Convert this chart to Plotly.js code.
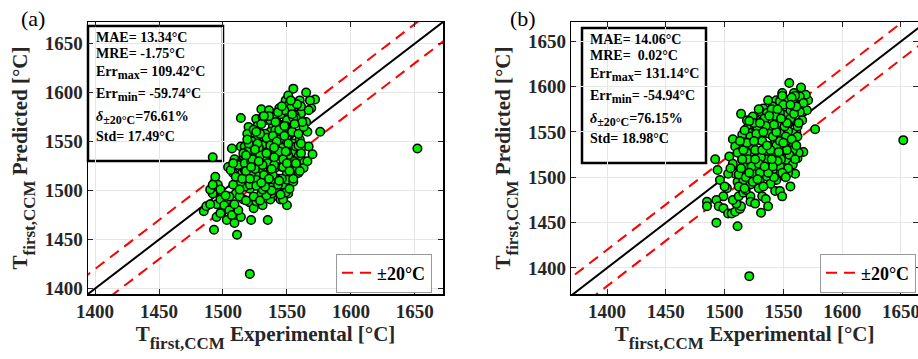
<!DOCTYPE html>
<html>
<head>
<meta charset="utf-8">
<script src="https://cdn.plot.ly/plotly-3.0.1.min.js"></script>
<style>html,body{margin:0;padding:0;background:#fff;}#chart{width:918px;height:359px;}</style>
</head>
<body>
<div id="chart"></div>
<script>
// ---- Panel (a) data: experimental vs predicted ----
const expA = [1492,1514,1485,1493,1511,1521,1535,1522,1652,1576,1555,1565,1572,1569,1530,1520,1507,1514,1509,1494,
1496,1492,1495,1499,1504,1510,1508,1504,1503,1509,1514,1516,1521,1524,1526,1531,1537,1543,1545,1550,
1551,1547,1555,1556,1561,1563,1567,1566,1565,1561,1544,1542,1549,1551,1560,1526,1526,1522,1520,1517,
1516,1513,1515,1518,1521,1530,1534,1539,1533,1537,1542,1538,1533,1529,1524,1534,1542,1539,1546,1550,
1553,1557,1550,1555,1560,1561,1552,1547,1551,1546,1554,1550,1544,1540,1527,1524,1520,1534,1531,1537,
1534,1542,1547,1555,1559,1557,1537,1524,1517,1508,1506,1526,1550,1547,1543,1538,1549,1555,1559,1563,
1552,1557,1561,1548,1541,1536,1531,1524,1519,1526,1529,1561,1567,1568,1556,1552,1559,1563,1547,1552,
1539,1544,1552,1557,1561,1531,1526,1522,1517,1514,1510,1512,1508,1487,1490,1498,1501,1505,1507,1512,
1509,1505,1513,1518,1513,1524,1529,1534,1531,1490,1492,1498,1502,1495,1498,1566,1570,1545,1528,1536,
1515,1517,1519,1521,1523,1525,1527,1529,1531,1533,1535,1537,1539,1541,1543,1545,1547,1549,1551,1553,
1555,1557,1559,1516,1518,1520,1522,1524,1526,1528,1530,1532,1534,1536,1538,1540,1542,1544,1546,1548,
1550,1552,1554,1556,1558,1560,1562,1519,1523,1527,1531,1535,1539,1543,1547,1551,1555,1559,1521,1525,
1529,1533,1537,1541,1545,1549,1553,1557,1561,1528,1532,1536,1540,1544,1548,1552,1556,1534,1538,1542,
1546,1550,1554,1530,1526,1522,1518,1540,1544,1548];
const predA = [1534,1574,1479,1460,1455,1415,1470,1470,1543,1560,1604,1600,1593,1584,1583,1565,1543,1545,1532,1514,
1506,1497,1486,1478,1491,1497,1506,1524,1470,1467,1473,1491,1488,1482,1489,1485,1491,1494,1491,1485,
1497,1506,1516,1523,1531,1530,1545,1560,1570,1579,1584,1579,1592,1597,1592,1573,1563,1555,1552,1545,
1535,1528,1518,1509,1502,1497,1501,1504,1509,1518,1524,1531,1535,1540,1545,1548,1555,1565,1567,1572,
1563,1569,1555,1548,1552,1543,1541,1535,1528,1524,1521,1518,1512,1511,1518,1524,1531,1524,1555,1560,
1572,1548,1545,1538,1535,1545,1543,1533,1521,1518,1521,1511,1511,1491,1498,1497,1498,1509,1518,1523,
1589,1586,1579,1582,1577,1582,1575,1562,1558,1552,1558,1586,1582,1592,1577,1582,1558,1565,1552,1560,
1538,1540,1533,1528,1538,1521,1531,1518,1504,1509,1514,1526,1528,1484,1486,1491,1485,1480,1475,1480,
1486,1494,1494,1490,1501,1494,1490,1495,1501,1501,1506,1501,1495,1473,1477,1530,1537,1557,1566,1552,
1512,1528,1540,1506,1550,1522,1566,1536,1546,1558,1528,1572,1516,1562,1506,1578,1524,1566,1536,1584,
1512,1574,1546,1538,1520,1548,1530,1562,1505,1544,1568,1516,1554,1576,1500,1526,1570,1552,1512,1582,
1540,1502,1560,1530,1588,1520,1570,1552,1532,1548,1526,1540,1556,1580,1532,1548,1574,1558,1512,1542,
1558,1504,1546,1570,1496,1540,1592,1528,1548,1530,1576,1512,1534,1562,1556,1520,1568,1538,1522,1550,
1586,1528,1578,1508,1560,1524,1536,1544,1510,1566];

// ---- Panel (b) data ----
const expB = [1652,1521,1493,1511,1555,1565,1577,1514,1492,1494,1485,1485,1496,1502,1499,1493,1495,1499,1503,1506,
1509,1513,1514,1510,1507,1512,1516,1522,1522,1526,1531,1532,1535,1537,1543,1547,1549,1556,1560,1554,
1562,1567,1563,1558,1561,1566,1570,1571,1569,1559,1549,1544,1541,1533,1530,1527,1519,1522,1515,1507,
1509,1504,1507,1509,1511,1516,1519,1515,1519,1524,1530,1536,1540,1546,1551,1556,1561,1564,1557,1553,
1547,1543,1537,1532,1526,1522,1527,1533,1539,1544,1550,1554,1558,1562,1554,1549,1541,1536,1530,1524,
1530,1536,1541,1547,1553,1557,1544,1539,1522,1518,1529,1551,1558,1547,1543,1537,1532,1527,1536,1547,
1553,1558,1564,1567,1524,1519,1516,1520,1524,1513,1511,1516,1512,1503,1505,1500,1540,1545,1550,1528,
1512,1514,1516,1518,1520,1522,1524,1526,1528,1530,1532,1534,1536,1538,1540,1542,1544,1546,1548,1550,
1552,1554,1556,1558,1560,1562,1515,1519,1523,1527,1531,1535,1539,1543,1547,1551,1555,1559,1563,1517,
1521,1525,1529,1533,1537,1541,1545,1549,1553,1557,1561,1513,1517,1521,1525,1529,1533,1537,1541,1545,
1549,1553,1557,1561,1528,1532,1536,1540,1544,1548,1552,1556,1560,1526,1530,1534,1538,1542,1546,1550];
const predB = [1541,1391,1450,1446,1604,1599,1553,1570,1520,1508,1473,1468,1497,1488,1479,1475,1468,1466,1460,1460,
1462,1465,1468,1471,1475,1479,1483,1479,1473,1471,1461,1479,1476,1468,1485,1485,1479,1490,1504,1505,
1521,1528,1527,1534,1550,1563,1574,1585,1591,1593,1593,1585,1578,1576,1573,1563,1554,1549,1547,1542,
1534,1523,1515,1504,1495,1497,1508,1519,1527,1534,1541,1549,1554,1561,1569,1574,1579,1572,1564,1556,
1549,1541,1534,1527,1519,1512,1508,1512,1519,1527,1534,1541,1549,1556,1551,1541,1528,1523,1515,1504,
1497,1501,1508,1512,1519,1527,1497,1493,1492,1486,1488,1501,1514,1571,1569,1563,1558,1552,1571,1584,
1585,1585,1589,1582,1567,1563,1539,1539,1543,1528,1527,1512,1503,1504,1510,1490,1560,1556,1530,1548,
1490,1510,1530,1500,1520,1545,1495,1530,1555,1505,1540,1565,1520,1548,1575,1500,1535,1560,1520,1580,
1545,1510,1565,1530,1590,1545,1520,1538,1512,1548,1522,1557,1530,1568,1540,1556,1525,1570,1560,1488,
1505,1560,1515,1550,1505,1545,1518,1590,1560,1542,1578,1540,1552,1562,1540,1575,1490,1585,1512,1575,
1505,1530,1588,1535,1498,1530,1535,1520,1550,1565,1500,1580,1520,1520,1560,1512,1568,1558,1528,1538];

const tickVals = [1400, 1450, 1500, 1550, 1600, 1650];
const band = 20;              // ±20 °C band
const refLine = [1300, 1700]; // extent of reference lines
const SUB = s => '<sub><span style="font-size:12px">' + s + '</span></sub>';
const statsA = ['MAE= 13.34°C', 'MRE= -1.75°C', 'Err' + SUB('max') + '= 109.42°C', 'Err' + SUB('min') + '= -59.74°C', '<i>δ</i>' + SUB('±20°C') + '=76.61%', 'Std= 17.49°C'];
const statsB = ['MAE= 14.06°C', 'MRE=&nbsp; 0.02°C', 'Err' + SUB('max') + '= 131.14°C', 'Err' + SUB('min') + '= -54.94°C', '<i>δ</i>' + SUB('±20°C') + '=76.15%', 'Std= 18.98°C'];

const W = 918, H = 359;
const px = x => x / W;
const py = y => 1 - y / H;
const SERIF = 'Liberation Serif';

function panelTraces(xs, ys, xa, ya, leg) {
  const up = refLine.map(v => v + band), lo = refLine.map(v => v - band);
  return [
    {x: refLine, y: refLine, xaxis: xa, yaxis: ya, mode: 'lines', line: {color: '#000', width: 2}, showlegend: false, hoverinfo: 'skip'},
    {x: refLine, y: up, xaxis: xa, yaxis: ya, mode: 'lines', line: {color: '#ff0000', width: 2, dash: '11px,7px'}, name: '<b>±20°C</b>', legend: leg, showlegend: true},
    {x: refLine, y: lo, xaxis: xa, yaxis: ya, mode: 'lines', line: {color: '#ff0000', width: 2, dash: '11px,7px'}, showlegend: false, legend: leg},
    {x: xs, y: ys, xaxis: xa, yaxis: ya, mode: 'markers', type: 'scatter', showlegend: false,
     marker: {color: '#00f000', size: 8.5, line: {color: '#000', width: 1.5}}}
  ];
}

const data = [].concat(panelTraces(expA, predA, 'x', 'y', 'legend'), panelTraces(expB, predB, 'x2', 'y2', 'legend2'));

const tickFont = {family: SERIF, size: 19, color: '#262626', weight: 'bold'};
const titleFont = {family: SERIF, size: 21, color: '#262626', weight: 'bold'};
function axis(extra) {
  return Object.assign({
    tickvals: tickVals, ticktext: tickVals.map(v => '<b>' + v + '</b>'), ticks: 'inside', ticklen: 5, tickwidth: 1, tickcolor: '#262626',
    showline: true, linecolor: '#000', linewidth: 1.5, mirror: 'ticks',
    showgrid: true, gridcolor: '#e6e6e6', gridwidth: 1, zeroline: false,
    tickfont: tickFont, fixedrange: true
  }, extra);
}
const TSUB = '<sub><sub><span style="font-size:17px">first,CCM</span></sub></sub>';
const xTitle = 'T' + TSUB + ' Experimental [°C]';
const yTitle = 'T' + TSUB + ' Predicted [°C]';

const annotations = [];
const shapes = [];
function stats(lines, left, ys) {
  lines.forEach((t, i) => annotations.push({
    xref: 'paper', yref: 'paper', x: px(left), y: py(ys[i]), xanchor: 'left', yanchor: 'middle',
    text: t, showarrow: false, font: {family: SERIF, size: 14, color: '#000', weight: 'bold'}
  }));
}
stats(statsA, 94, [38, 53, 73, 95, 118, 136]);
stats(statsB, 588, [40, 56, 75, 97, 120, 138]);
shapes.push({type: 'rect', xref: 'paper', yref: 'paper', x0: px(88), x1: px(223), y0: py(26), y1: py(161), line: {color: '#000', width: 2.5}, layer: 'below'});
shapes.push({type: 'rect', xref: 'paper', yref: 'paper', x0: px(582), x1: px(706), y0: py(28), y1: py(163), line: {color: '#000', width: 2.5}, layer: 'below'});
annotations.push({xref: 'paper', yref: 'paper', x: px(33), y: py(19), xanchor: 'center', yanchor: 'middle', text: '(a)', showarrow: false, font: {family: SERIF, size: 22, color: '#000'}});
annotations.push({xref: 'paper', yref: 'paper', x: px(523), y: py(19), xanchor: 'center', yanchor: 'middle', text: '(b)', showarrow: false, font: {family: SERIF, size: 22, color: '#000'}});

const legendStyle = {bgcolor: '#fff', bordercolor: '#999', borderwidth: 1, font: {family: SERIF, size: 18, color: '#000', weight: 'bold'},
  xanchor: 'left', yanchor: 'middle', tracegroupgap: 0, itemwidth: 30};

const layout = {
  width: W, height: H, margin: {l: 0, r: 0, t: 0, b: 0},
  font: {family: SERIF},
  paper_bgcolor: '#fff', plot_bgcolor: '#fff', showlegend: true,
  xaxis: axis({domain: [px(88), px(443)], range: [1394.5, 1672], anchor: 'y', title: {text: xTitle, font: titleFont, standoff: 2}}),
  yaxis: axis({domain: [py(294), py(22)], range: [1394.5, 1672], anchor: 'x', title: {text: yTitle, font: titleFont, standoff: 11}}),
  xaxis2: axis({domain: [px(571.3), 1], range: [1369.6, 1664.5], anchor: 'y2', ticklabeloverflow: 'allow', title: {text: xTitle, font: titleFont, standoff: 2}}),
  yaxis2: axis({domain: [py(294), py(22)], range: [1371.3, 1671.3], anchor: 'x2', title: {text: yTitle, font: titleFont, standoff: 11}}),
  legend: Object.assign({x: px(336), y: py(273)}, legendStyle),
  legend2: Object.assign({x: px(820), y: py(273)}, legendStyle),
  annotations: annotations, shapes: shapes
};

Plotly.newPlot('chart', data, layout, {displayModeBar: false, staticPlot: true});
</script>
</body>
</html>
